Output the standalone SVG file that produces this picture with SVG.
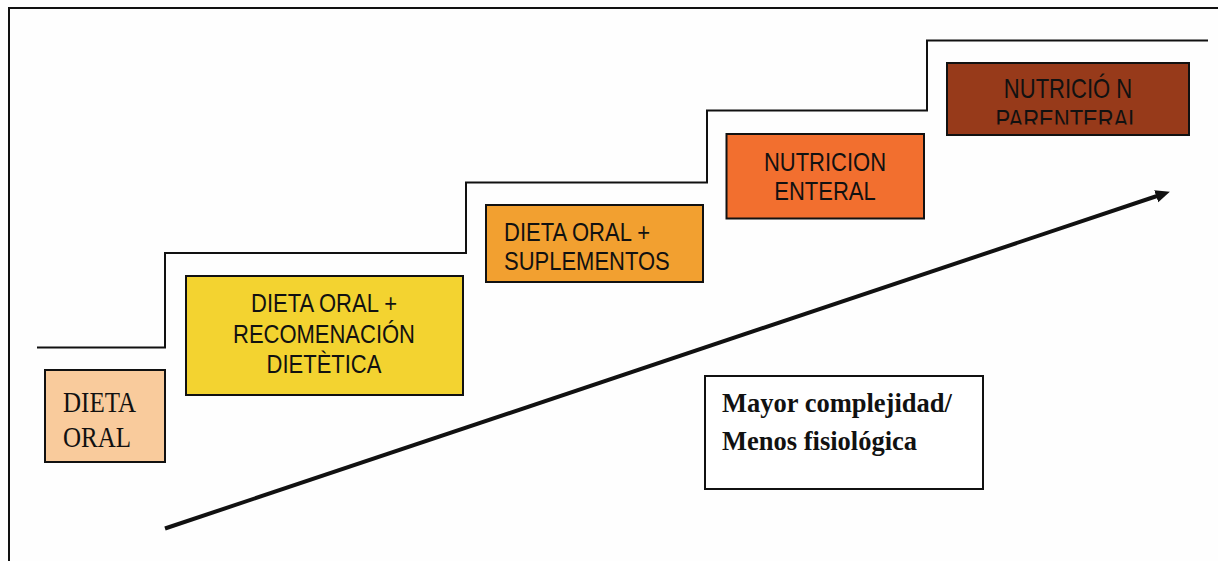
<svg xmlns="http://www.w3.org/2000/svg" width="1218" height="561" viewBox="0 0 1218 561">
  <style>
    .box { stroke: #111; stroke-width: 2; }
    .sans { font-family: "Liberation Sans", Arial, sans-serif; font-size: 22px; fill: #111; }
    .serif { font-family: "Liberation Serif", "Times New Roman", serif; fill: #111; }
    .line { fill: none; stroke: #111; stroke-width: 2; }
  </style>
  <defs>
    <marker id="arrowhead" markerWidth="4" markerHeight="3.4" refX="1" refY="1.6" orient="auto" markerUnits="strokeWidth">
      <path d="M0,0 L3.6,1.6 L0,3.2 Z" fill="#111"/>
    </marker>
    <clipPath id="clipParen">
      <rect x="947" y="63" width="242" height="61.5"/>
    </clipPath>
  </defs>
  <rect x="0" y="0" width="1218" height="561" fill="#fefefe"/>

  <g id="frame">
    <path class="line" d="M9,561 L9,8 L1218,8"/>
  </g>

  <g id="connectors">
    <path class="line" d="M37,347.5 L165,347.5 L165,253 L466,253 L466,182.5 L707,182.5 L707,110.5 L927,110.5 L927,40.5 L1208,40.5"/>
    <line x1="165" y1="528.5" x2="1160" y2="195" stroke="#111" stroke-width="4" marker-end="url(#arrowhead)"/>
  </g>

  <g id="node-dieta-oral">
    <rect class="box" x="45" y="370" width="120" height="92" fill="#F9CB9C"/>
    <text class="serif" font-size="25" transform="translate(63 411.5) scale(1 1.2)">DIETA</text>
    <text class="serif" font-size="25" transform="translate(63 447) scale(1 1.2)">ORAL</text>
  </g>

  <g id="node-recomendacion">
    <rect class="box" x="186" y="276" width="277" height="119" fill="#F3D330"/>
    <text class="sans" text-anchor="middle" transform="translate(324 312.3) scale(1 1.2)">DIETA ORAL +</text>
    <text class="sans" text-anchor="middle" transform="translate(324 342.7) scale(1 1.2)">RECOMENACIÓN</text>
    <text class="sans" text-anchor="middle" transform="translate(324 372.7) scale(1 1.2)">DIETÈTICA</text>
  </g>

  <g id="node-suplementos">
    <rect class="box" x="486" y="205" width="217" height="77" fill="#F2A030"/>
    <text class="sans" transform="translate(504 240.7) scale(1 1.2)">DIETA ORAL +</text>
    <text class="sans" transform="translate(504 270) scale(1 1.2)">SUPLEMENTOS</text>
  </g>

  <g id="node-enteral">
    <rect class="box" x="726.5" y="134" width="197.5" height="84.5" fill="#F26F2F"/>
    <text class="sans" text-anchor="middle" transform="translate(825 170.7) scale(1 1.2)">NUTRICION</text>
    <text class="sans" text-anchor="middle" transform="translate(825 200) scale(1 1.2)">ENTERAL</text>
  </g>

  <g id="node-parenteral">
    <rect class="box" x="947" y="63" width="242" height="72" fill="#973A1A"/>
    <g clip-path="url(#clipParen)">
      <text class="sans" text-anchor="middle" transform="translate(1068 98.3) scale(1 1.25)">NUTRICIÓ N</text>
      <text class="sans" text-anchor="middle" transform="translate(1068 128.5) scale(1 1.25)">PARENTERAL</text>
    </g>
  </g>

  <g id="node-complejidad">
    <rect class="box" x="705" y="376" width="278" height="113" fill="#ffffff"/>
    <text class="serif" font-size="26.5" font-weight="bold" x="722" y="411.7">Mayor complejidad/</text>
    <text class="serif" font-size="26.5" font-weight="bold" x="722" y="450">Menos fisiológica</text>
  </g>
</svg>
